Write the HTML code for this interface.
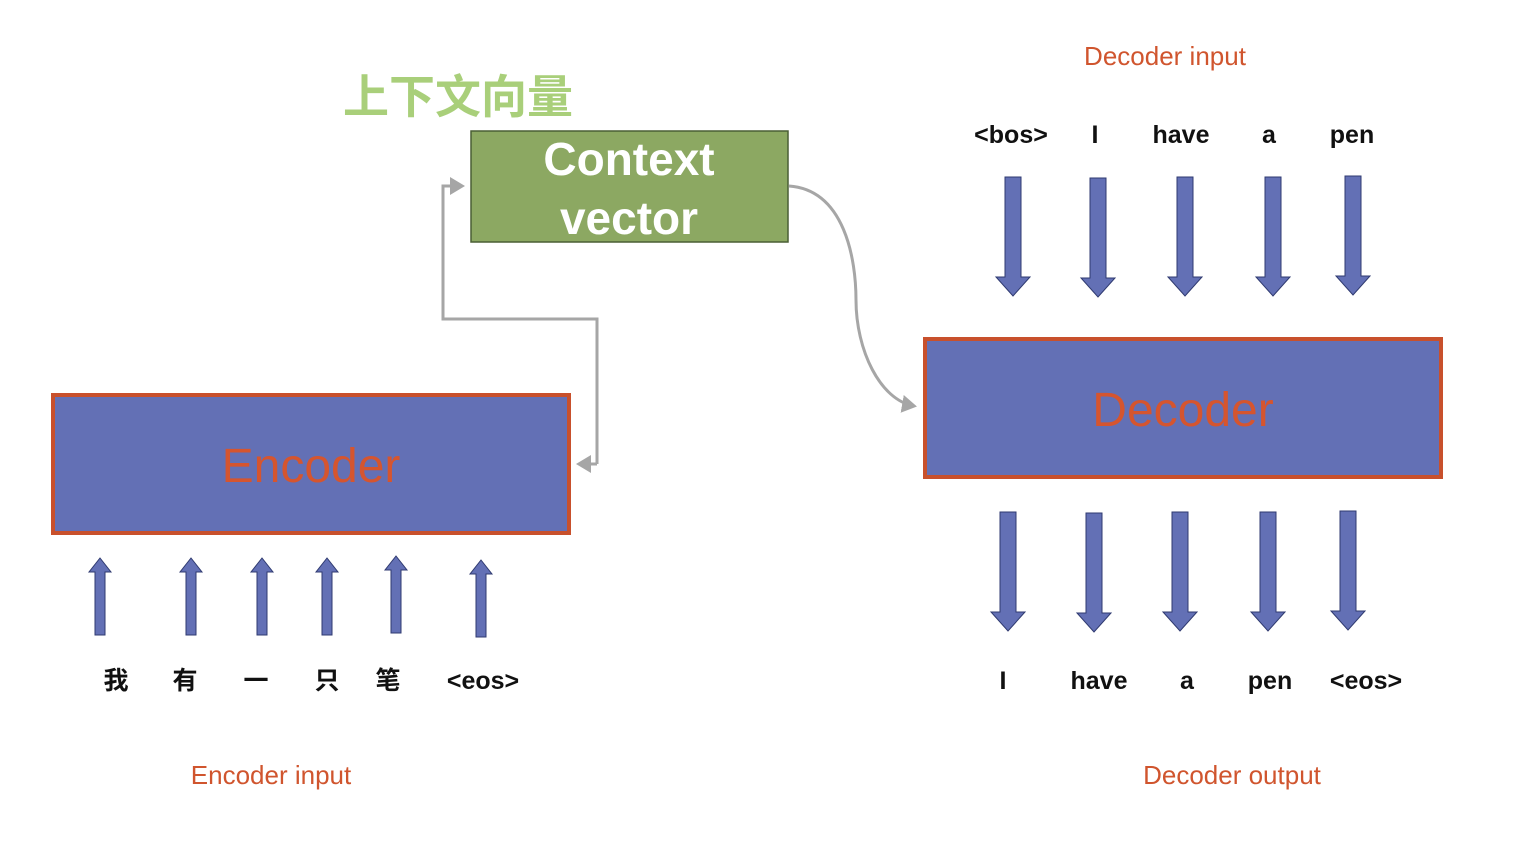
<!DOCTYPE html>
<html><head><meta charset="utf-8"><style>
html,body{margin:0;padding:0;background:#fff;}
svg{display:block;}
text{font-family:"Liberation Sans","Noto Sans CJK SC",sans-serif;}
</style></head><body>
<svg width="1524" height="850" viewBox="0 0 1524 850" xmlns="http://www.w3.org/2000/svg">
<defs>
<marker id="ah" markerWidth="6" markerHeight="6" refX="4" refY="3" orient="auto" markerUnits="strokeWidth">
<path d="M0,0 L5,3 L0,6 z" fill="#A6A6A6"/>
</marker>
<g id="upS"><path d="M-5,77 L-5,14 L-11,14 L0,0 L11,14 L5,14 L5,77 z" fill="#6370B5" stroke="#2f3a70" stroke-width="1"/></g>
<g id="dnL"><path d="M-8,0 L-8,100 L-17,100 L0,119 L17,100 L8,100 L8,0 z" fill="#6370B5" stroke="#2f3a70" stroke-width="1"/></g>
</defs>

<text x="458" y="113" font-size="46" font-weight="bold" fill="#A9CF7A" text-anchor="middle">上下文向量</text>

<rect x="471" y="131" width="317" height="111" fill="#8CA862" stroke="#4a5f34" stroke-width="1.5"/>
<text x="629" y="175" font-size="46" font-weight="bold" fill="#fff" text-anchor="middle">Context</text>
<text x="629" y="234" font-size="46" font-weight="bold" fill="#fff" text-anchor="middle">vector</text>

<rect x="53" y="395" width="516" height="138" fill="#6370B5" stroke="#C8502C" stroke-width="4"/>
<text x="311" y="482" font-size="48" fill="#D5552F" text-anchor="middle">Encoder</text>

<rect x="925" y="339" width="516" height="138" fill="#6370B5" stroke="#C8502C" stroke-width="4"/>
<text x="1183" y="426" font-size="48" fill="#D5552F" text-anchor="middle">Decoder</text>

<path d="M597,464 L597,319 L443,319 L443,186 L462,186" fill="none" stroke="#A6A6A6" stroke-width="3" marker-end="url(#ah)"/>
<path d="M597,464 L579,464" fill="none" stroke="#A6A6A6" stroke-width="3" marker-end="url(#ah)"/>
<path d="M789,186 C845,190 856,260 856,300 C856,350 880,400 914,406" fill="none" stroke="#A6A6A6" stroke-width="3" marker-end="url(#ah)"/>

<use href="#upS" x="100" y="558"/>
<use href="#upS" x="191" y="558"/>
<use href="#upS" x="262" y="558"/>
<use href="#upS" x="327" y="558"/>
<use href="#upS" x="396" y="556"/>
<use href="#upS" x="481" y="560"/>

<use href="#dnL" x="1013" y="177"/>
<use href="#dnL" x="1098" y="178"/>
<use href="#dnL" x="1185" y="177"/>
<use href="#dnL" x="1273" y="177"/>
<use href="#dnL" x="1353" y="176"/>

<use href="#dnL" x="1008" y="512"/>
<use href="#dnL" x="1094" y="513"/>
<use href="#dnL" x="1180" y="512"/>
<use href="#dnL" x="1268" y="512"/>
<use href="#dnL" x="1348" y="511"/>

<g font-size="25" font-weight="bold" fill="#111" text-anchor="middle">
<text x="1011" y="143">&lt;bos&gt;</text>
<text x="1095" y="143">I</text>
<text x="1181" y="143">have</text>
<text x="1269" y="143">a</text>
<text x="1352" y="143">pen</text>
<text x="1003" y="689">I</text>
<text x="1099" y="689">have</text>
<text x="1187" y="689">a</text>
<text x="1270" y="689">pen</text>
<text x="1366" y="689">&lt;eos&gt;</text>
<text x="116" y="689">我</text>
<text x="185" y="689">有</text>
<text x="256" y="689">一</text>
<text x="327" y="689">只</text>
<text x="388" y="689">笔</text>
<text x="483" y="689">&lt;eos&gt;</text>
</g>

<g font-size="26" fill="#D0552E" text-anchor="middle">
<text x="1165" y="65">Decoder input</text>
<text x="271" y="784">Encoder input</text>
<text x="1232" y="784">Decoder output</text>
</g>
</svg>
</body></html>
